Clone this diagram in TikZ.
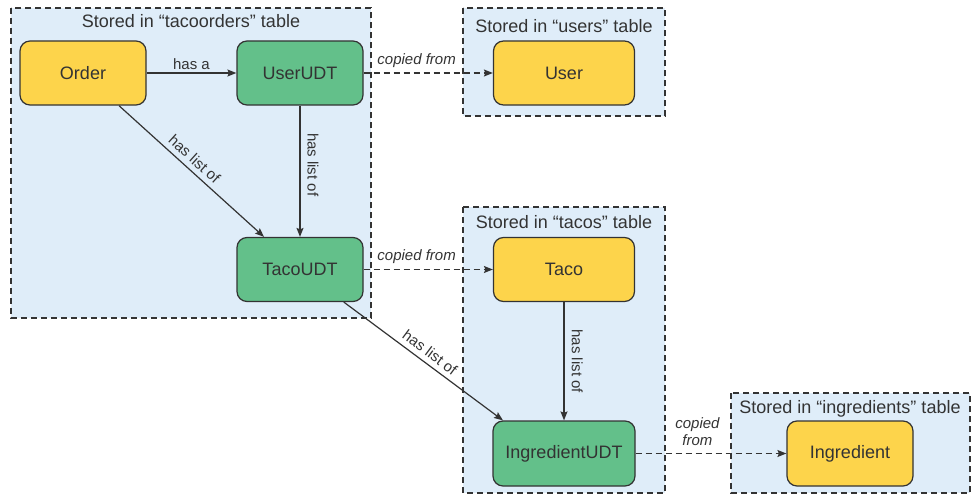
\documentclass[tikz,border=0pt]{standalone}
\usepackage{fontspec}
\setmainfont{Liberation Sans}
\usetikzlibrary{arrows.meta,positioning}
\definecolor{cEntity}{HTML}{FDD44B}
\definecolor{cUdt}{HTML}{63C08A}
\definecolor{cTable}{HTML}{DFEDF9}
\definecolor{ink}{HTML}{333333}

\begin{document}
\begin{tikzpicture}[
  x=1pt, y=-1pt,
  every node/.style={text=ink},
  entity/.style={draw=ink, line width=1.2pt, rounded corners=10pt, fill=cEntity,
    minimum width=126pt, minimum height=64pt, font=\fontsize{18}{21}\selectfont},
  udt/.style={entity, fill=cUdt},
  tablebox/.style={draw=ink, line width=1.1pt, fill=cTable, dash pattern=on 6pt off 4pt},
  tablelbl/.style={anchor=base, inner sep=0pt, font=\fontsize{18}{21}\selectfont},
  rel/.style={draw=ink, line width=1.2pt, -{Stealth[length=9pt,width=7pt,inset=1.5pt]}},
  copied/.style={rel, dash pattern=on 6pt off 4pt},
  lbl/.style={font=\fontsize{15}{17}\selectfont, inner sep=2pt},
  copylbl/.style={lbl, font=\fontsize{15}{17}\selectfont\itshape},
  downlbl/.style={lbl, rotate=-90, anchor=south, inner ysep=7pt}
]
  \useasboundingbox (0,0) rectangle (975,495);

  % Tables (dashed containers)
  \draw[tablebox] (11,8)   rectangle (371,318);
  \draw[tablebox] (463,8)  rectangle (665,116);
  \draw[tablebox] (463,207) rectangle (665,493);
  \draw[tablebox] (731,393) rectangle (970,493);
  \node[tablelbl] (lblOrders) at (191,28)  {Stored in “tacoorders” table};
  \node[tablelbl] (lblUsers)  at (564,33)  {Stored in “users” table};
  \node[tablelbl] (lblTacos)  at (564,228) {Stored in “tacos” table};
  \node[tablelbl] (lblIngr)   at (850,413) {Stored in “ingredients” table};

  % Entities and UDTs
  \node[entity] (Order)   at (83,73)    {Order};
  \node[udt]    (UserUDT) at (300,73)   {UserUDT};
  \node[udt]    (TacoUDT) at (300,269.5) {TacoUDT};
  \node[entity, minimum width=141pt] (User) at (564,73)    {User};
  \node[entity, minimum width=141pt] (Taco) at (564,269.5) {Taco};
  \node[udt, minimum width=142pt, minimum height=65pt] (IngredientUDT) at (564,453.5) {IngredientUDT};
  \node[entity, minimum height=65pt] (Ingredient) at (850,453.5) {Ingredient};

  % Relations
  \draw[rel] (Order) -- node[lbl, sloped, above=3pt, pos=0.47] {has list of} (TacoUDT);
  \draw[rel] (Order) -- node[lbl, above=1pt] {has a} (UserUDT);
  \draw[rel] (UserUDT) -- node[downlbl, pos=0.45] {has list of} (TacoUDT);
  \draw[rel] (TacoUDT) -- node[lbl, sloped, above=3pt] {has list of} ([xshift=-61pt]IngredientUDT.north);
  \draw[rel] (Taco) -- node[downlbl] {has list of} (IngredientUDT);

  % Copies
  \draw[copied] (UserUDT) -- node[copylbl, above=3pt, pos=0.41] {copied from} (User);
  \draw[copied] (TacoUDT) -- node[copylbl, above=3pt, pos=0.41] {copied from} (Taco);
  \draw[copied] (IngredientUDT) -- node[copylbl, above=5pt, pos=0.41, align=center] {copied\\from} (Ingredient);
\end{tikzpicture}
\end{document}
